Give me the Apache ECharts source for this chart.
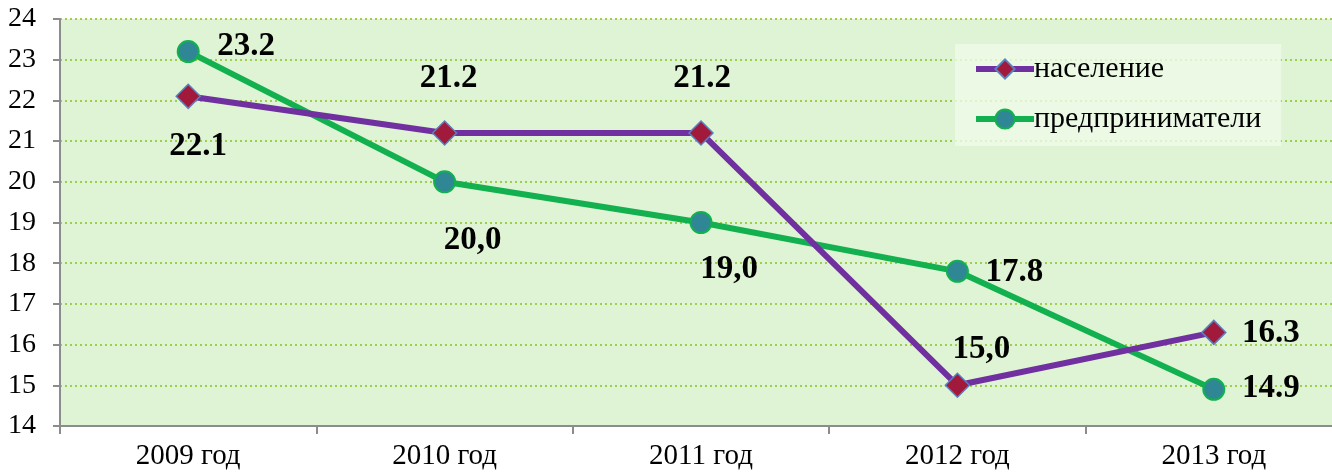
<!DOCTYPE html>
<html><head><meta charset="utf-8">
<script src="https://cdn.jsdelivr.net/npm/echarts@6/dist/echarts.min.js"></script>
<style>html,body{margin:0;padding:0;background:#fff}#c{width:1332px;height:474px}</style>
</head><body><div id="c"></div>
<script>
const categories = ['2009 год','2010 год','2011 год','2012 год','2013 год'];
const populationName = 'население';
const populationValues = [22.1, 21.2, 21.2, 15.0, 16.3];
const populationLabels = ['22.1','21.2','21.2','15,0','16.3'];
const entrepreneursName = 'предприниматели';
const entrepreneursValues = [23.2, 20.0, 19.0, 17.8, 14.9];
const entrepreneursLabels = ['23.2','20,0','19,0','17.8','14.9'];
const yTicks = [14,15,16,17,18,19,20,21,22,23,24];

const popOffsets = [[10,50],[4,-54],[1,-54],[24,-36],[57,1]];
const entOffsets = [[58,-5],[28,59],[28,47],[57,1],[57,-1]];
const labelFont = {fontFamily:'Liberation Serif', fontWeight:'bold', fontSize:33, color:'#000'};

function mkData(vals, labels, offs) {
  return vals.map((v,i)=>({value:v, label:{show:true, position:'inside', offset:offs[i], formatter:labels[i], ...labelFont}}));
}

const chart = echarts.init(document.getElementById('c'));
chart.setOption({
  animation:false,
  backgroundColor:'#fff',
  grid:{left:60, top:19, bottom:48, width:1282, outerBoundsMode:'none', containLabel:false, show:true, backgroundColor:'#dff4d5', borderWidth:0},
  legend:{
    orient:'vertical', left:955, top:44, itemWidth:58, itemHeight:24, itemGap:20,
    padding:[10,20,12,18], backgroundColor:'rgba(238,250,232,0.8)',
    lineStyle:{width:6},
    textStyle:{fontFamily:'Liberation Serif', fontSize:30, color:'#000', padding:[0,0,0,-5]},
    data:[populationName, entrepreneursName]
  },
  xAxis:{
    type:'category', data:categories, boundaryGap:true,
    axisLine:{lineStyle:{color:'#8c8c8c', width:2}},
    axisTick:{show:true, length:8, lineStyle:{color:'#8c8c8c', width:2}},
    axisLabel:{fontFamily:'Liberation Serif', fontSize:29, color:'#000', margin:16},
    splitLine:{show:false}
  },
  yAxis:{
    type:'value', min:14, max:24, interval:1,
    axisLine:{show:true, lineStyle:{color:'#8c8c8c', width:2}},
    axisTick:{show:true, length:7, lineStyle:{color:'#8c8c8c', width:2}},
    axisLabel:{fontFamily:'Liberation Serif', fontSize:28, color:'#000', margin:24,
      formatter:(v)=> yTicks.includes(v) ? String(v) : ''},
    splitLine:{show:true, lineStyle:{color:'#9dcf4a', width:2, type:[2,3]}}
  },
  series:[
    {
      name:populationName, type:'line', data:mkData(populationValues, populationLabels, popOffsets),
      lineStyle:{color:'#7030a0', width:6}, symbol:'diamond', symbolSize:24,
      itemStyle:{color:'#a11a3c', borderColor:'#5b80c0', borderWidth:1.5}, z:3
    },
    {
      name:entrepreneursName, type:'line', data:mkData(entrepreneursValues, entrepreneursLabels, entOffsets),
      lineStyle:{color:'#12b04e', width:6}, symbol:'circle', symbolSize:21,
      itemStyle:{color:'#2f8796', borderColor:'#12b04e', borderWidth:2}, z:2
    }
  ]
});
</script></body></html>
